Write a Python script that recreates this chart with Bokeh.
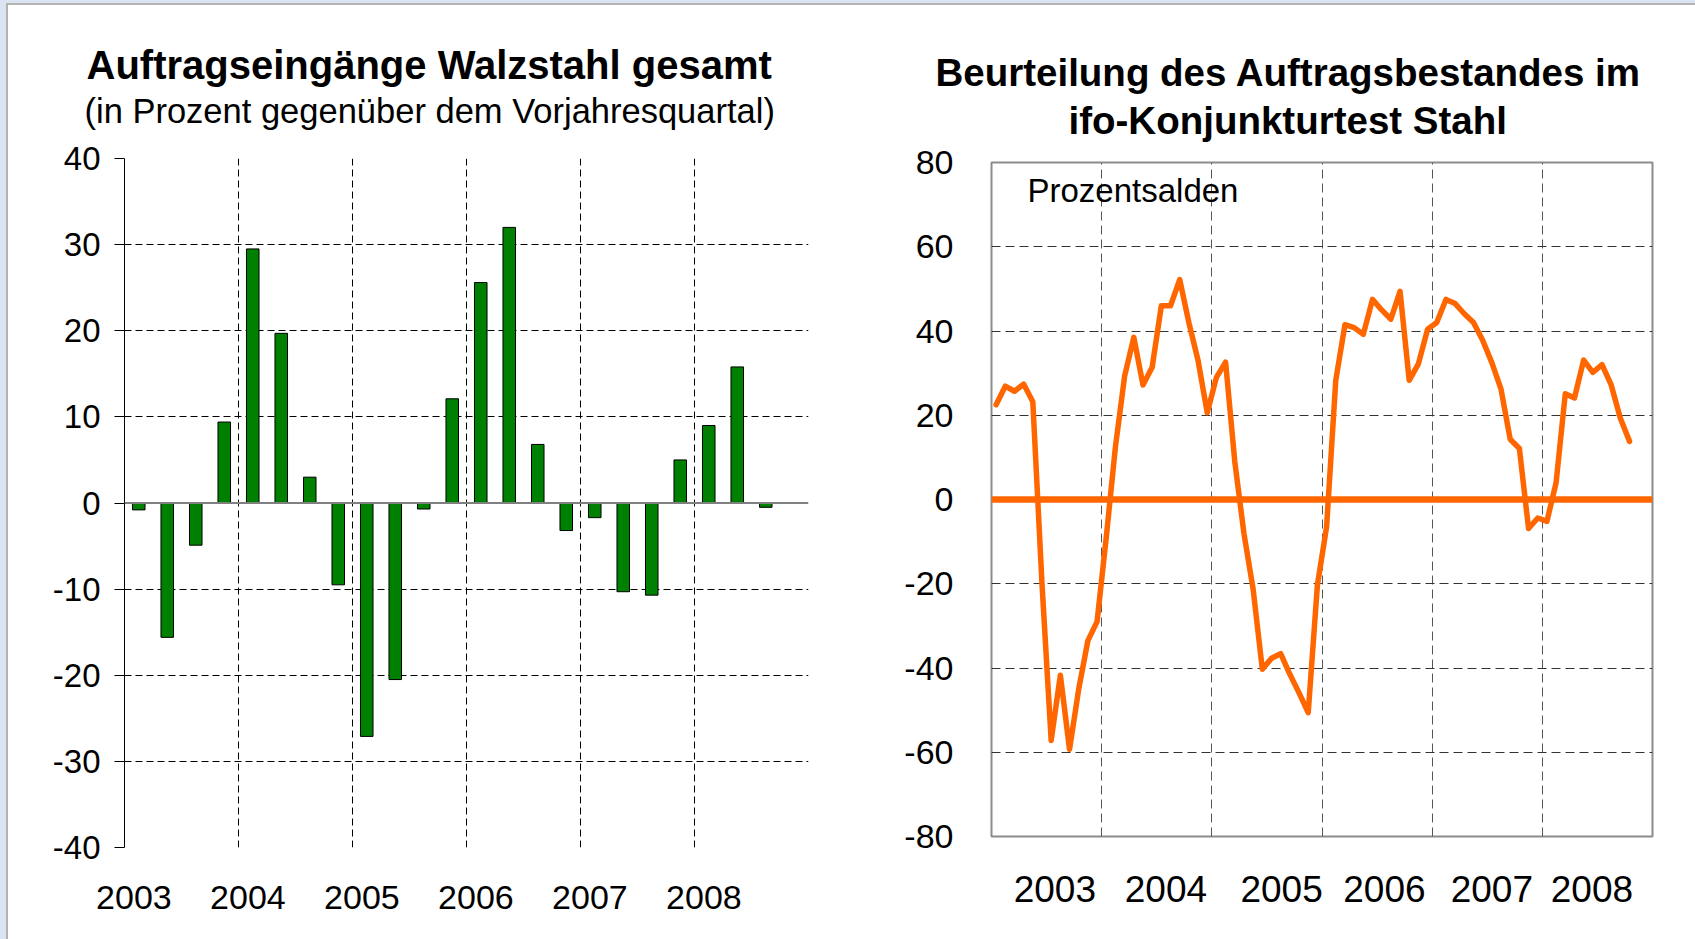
from bokeh.plotting import figure
from bokeh.layouts import row, column
from bokeh.models import FixedTicker, Span, Label, Range1d, Title
from bokeh.embed import file_html
from bokeh.resources import INLINE

# ---------------- data ----------------
years = ["2003", "2004", "2005", "2006", "2007", "2008"]

# Auftragseingänge Walzstahl gesamt, % ggü. Vorjahresquartal (2003Q1 .. 2008Q3)
orders_growth = [-0.8, -15.6, -4.9, 9.4,
                 29.5, 19.7, 3.0, -9.5,
                 -27.1, -20.5, -0.7, 12.1,
                 25.6, 32.0, 6.8, -3.2,
                 -1.7, -10.3, -10.7, 5.0,
                 9.0, 15.8, -0.5]

# ifo Konjunkturtest Stahl, Beurteilung Auftragsbestand, Prozentsalden (monthly, Jan 2003 ..)
ifo_balance = [22.5, 26.9, 25.7, 27.4, 23.2, -20.0, -57.2, -41.7, -59.3, -45.0, -33.5, -29.0,
               -9.0, 12.5, 29.3, 38.5, 27.2, 31.4, 46.0, 46.0, 52.2, 42.0, 33.0, 20.6,
               29.0, 32.6, 9.0, -8.1, -21.3, -40.3, -37.7, -36.6, -41.5, -45.9, -50.6, -20.3,
               -6.5, 28.3, 41.5, 40.8, 39.2, 47.5, 45.0, 42.8, 49.4, 28.3, 32.2, 40.4,
               42.0, 47.5, 46.5, 44.1, 42.0, 37.8, 32.5, 26.2, 14.3, 12.1, -6.9, -4.4,
               -5.2, 4.0, 25.1, 24.1, 33.1, 30.2, 32.0, 27.2, 19.3, 13.8]

left_ticks = list(range(-40, 41, 10))
right_ticks = list(range(-80, 81, 20))

left_title = "Auftragseingänge Walzstahl gesamt"
left_subtitle = "(in Prozent gegenüber dem Vorjahresquartal)"
right_title_1 = "Beurteilung des Auftragsbestandes im"
right_title_2 = "ifo-Konjunkturtest Stahl"
right_note = "Prozentsalden"

# ---------------- layout / style ----------------
FONT = "Liberation Sans"
GREEN = "#008000"
ORANGE = "#FF6600"
M = 8
H = 923

LW = 842                       # left block: page x 8..850
LF = dict(l=124, r=808, t=158, b=847)
RW = 837                       # right block: page x 850..1687
RX0 = M + LW
RF = dict(l=991, r=1652, t=162, b=836)


def title(text, size, offset, standoff, bold=True):
    t = Title(text=text, align="left", offset=offset, standoff=0,
              text_font=FONT, text_font_size=f"{size}px",
              text_font_style="bold" if bold else "normal", text_color="black")
    try:
        t.standoff = standoff
    except Exception:
        t.standoff = max(standoff, 0)
    return t


# ---------- left chart ----------
n_slots = 4 * len(years)
p1 = figure(width=LW, height=H, output_backend="svg", toolbar_location=None,
            x_range=Range1d(0, n_slots), y_range=Range1d(-40, 40),
            min_border_left=LF["l"] - M, min_border_right=M + LW - LF["r"],
            min_border_top=LF["t"] - M, min_border_bottom=M + H - LF["b"])
p1.title = None
p1.outline_line_color = None
p1.background_fill_color = "white"
p1.border_fill_color = None

bar_x = [i + 0.5 for i in range(len(orders_growth))]
p1.vbar(x=bar_x, top=orders_growth, bottom=0, width=0.44,
        fill_color=GREEN, line_color="black", line_width=1)

p1.add_layout(Span(location=0, dimension="width", line_color="#808080", line_width=2))

p1.yaxis.ticker = FixedTicker(ticks=left_ticks)
p1.yaxis.major_label_overrides = {v: str(v) for v in left_ticks}
p1.yaxis.axis_line_color = "black"
p1.yaxis.axis_line_width = 1
p1.yaxis.major_tick_out = 10
p1.yaxis.major_tick_in = 0
p1.yaxis.major_tick_line_color = "black"
p1.yaxis.minor_tick_line_color = None
p1.yaxis.major_label_standoff = 14
p1.yaxis.major_label_text_font = FONT
p1.yaxis.major_label_text_font_size = "33px"
p1.yaxis.major_label_text_color = "black"

xt1 = [4 * k + 0.33 for k in range(len(years))]
p1.xaxis.ticker = FixedTicker(ticks=xt1)
p1.xaxis.major_label_overrides = {t: y for t, y in zip(xt1, years)}
p1.xaxis.axis_line_color = None
p1.xaxis.major_tick_line_color = None
p1.xaxis.minor_tick_line_color = None
p1.xaxis.major_label_standoff = 32
p1.xaxis.major_label_text_font = FONT
p1.xaxis.major_label_text_font_size = "34px"
p1.xaxis.major_label_text_color = "black"

p1.xgrid.ticker = FixedTicker(ticks=list(range(4, n_slots + 1, 4)))
p1.ygrid.ticker = FixedTicker(ticks=[v for v in left_ticks if v != 0])
for g in (p1.xgrid, p1.ygrid):
    g.grid_line_color = "black"
    g.grid_line_dash = "7 4"
    g.grid_line_width = 1

# titles: first added sits next to the frame
p1.add_layout(title(left_subtitle, 34.5, 84.0 - LF["l"], 58, bold=False), "above")
p1.add_layout(title(left_title, 40, 86.0 - LF["l"], -52), "above")

# ---------- right chart ----------
n_months = 12 * len(years)
p2 = figure(width=RW, height=H, output_backend="svg", toolbar_location=None,
            x_range=Range1d(0, n_months), y_range=Range1d(-80, 80),
            min_border_left=RF["l"] - RX0, min_border_right=RX0 + RW - RF["r"],
            min_border_top=RF["t"] - M, min_border_bottom=M + H - RF["b"])
p2.title = None
p2.outline_line_color = "#8c8c8c"
p2.outline_line_width = 2
p2.background_fill_color = "white"
p2.border_fill_color = None

p2.add_layout(Span(location=0, dimension="width", line_color=ORANGE, line_width=6.5))
line_x = [i + 0.5 for i in range(len(ifo_balance))]
p2.line(line_x, ifo_balance, line_color=ORANGE, line_width=5.5, line_join="round", line_cap="round")

p2.yaxis.ticker = FixedTicker(ticks=right_ticks)
p2.yaxis.major_label_overrides = {v: str(v) for v in right_ticks}
p2.yaxis.axis_line_color = None
p2.yaxis.major_tick_line_color = None
p2.yaxis.minor_tick_line_color = None
p2.yaxis.major_label_standoff = 32
p2.yaxis.major_label_text_font = FONT
p2.yaxis.major_label_text_font_size = "34px"
p2.yaxis.major_label_text_color = "black"

xt2 = [6.9, 19.0, 31.6, 42.8, 54.5, 65.4]
p2.xaxis.ticker = FixedTicker(ticks=xt2)
p2.xaxis.major_label_overrides = {t: y for t, y in zip(xt2, years)}
p2.xaxis.axis_line_color = None
p2.xaxis.major_tick_line_color = None
p2.xaxis.minor_tick_line_color = None
p2.xaxis.major_label_standoff = 33
p2.xaxis.major_label_text_font = FONT
p2.xaxis.major_label_text_font_size = "37px"
p2.xaxis.major_label_text_color = "black"

p2.xgrid.ticker = FixedTicker(ticks=list(range(12, n_months, 12)))
p2.xgrid.grid_line_color = "#555555"
p2.xgrid.grid_line_dash = "9 5"
p2.ygrid.ticker = FixedTicker(ticks=[v for v in right_ticks if v not in (-80, 0, 80)])
p2.ygrid.grid_line_color = "#333333"
p2.ygrid.grid_line_dash = "9 5"

p2.add_layout(Label(x=1027 - RF["l"], y=RF["b"] - 189.5, x_units="screen", y_units="screen",
                    text=right_note, text_font=FONT, text_font_size="33px",
                    text_align="left", text_baseline="alphabetic", text_color="black"))

p2.add_layout(title(right_title_2, 38.5, 1068.0 - RF["l"], 42), "above")
p2.add_layout(title(right_title_1, 38.5, 935.0 - RF["l"], -37), "above")

# each figure in its own column so that the row does not align their frames
layout = row(column(p1), column(p2), spacing=0)

html = file_html(layout, INLINE, title="Walzstahl")
css = ("<style>"
       "html{background:#dbe4f1 !important;}"
       "body{margin:3px 0 0 6px !important;padding:3px 0 0 0 !important;"
       "border-left:2px solid #b3b3b3;border-top:2px solid #b3b3b3;"
       "background:#ffffff !important;height:calc(100% - 3px) !important;overflow:hidden;}"
       "</style>")
html = html.replace("</head>", css + "</head>", 1)
with open("out.html", "w") as f:
    f.write(html)
